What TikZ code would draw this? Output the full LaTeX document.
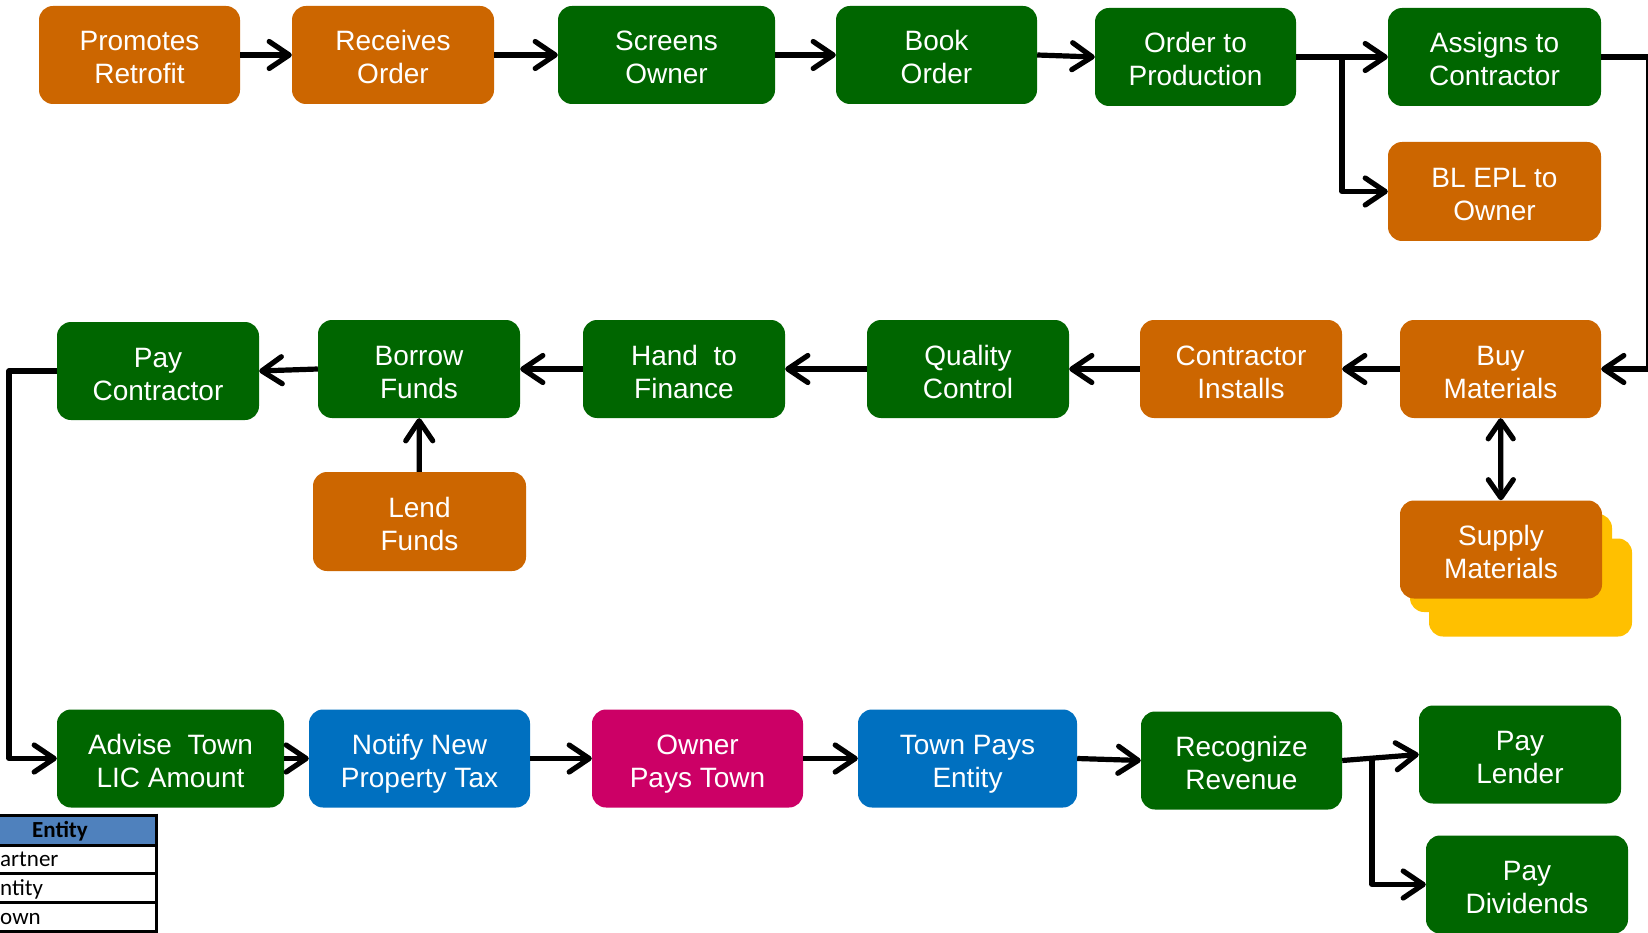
\documentclass[tikz,border=0pt]{standalone}
\usepackage{fontspec}
\setmainfont{Liberation Sans}
\newfontfamily\tablefont{Carlito}
\usetikzlibrary{arrows.meta}
\definecolor{orangec}{HTML}{CC6600}
\definecolor{greenc}{HTML}{006600}
\definecolor{bluec}{HTML}{0070C0}
\definecolor{magc}{HTML}{CC0066}
\definecolor{yellowc}{HTML}{FFC000}
\definecolor{headc}{HTML}{4F81BD}
\tikzset{
  box/.style={rectangle, rounded corners=14pt, text=white, align=center,
    minimum height=98pt, inner sep=0pt, text height=58pt, text depth=0pt,
    font=\fontsize{28}{33}\selectfont},
  obox/.style={box, fill=orangec},
  gbox/.style={box, fill=greenc},
  bbox/.style={box, fill=bluec},
  mbox/.style={box, fill=magc},
  ybox/.style={box, fill=yellowc},
  arr/.style={line width=5.2pt, line join=round,
    -{Straight Barb[length=20pt, width=27pt, line cap=round, line join=round]}},
  darr/.style={line width=5.2pt,
    {Straight Barb[length=18pt, width=25pt, line cap=round, line join=round]}-{Straight Barb[length=18pt, width=25pt, line cap=round, line join=round]}},
  tline/.style={line width=3pt},
  ttext/.style={inner sep=0pt, font=\tablefont\fontsize{23}{27}\selectfont}
}
\begin{document}
\begin{tikzpicture}[x=1pt, y=-1pt]
\path[use as bounding box, fill=white] (0,0) rectangle (1648,933);

% Row 1
\node[obox, minimum width=201pt] (promo) at (139.5,55) {Promotes\\Retrofit};
\node[obox, minimum width=202pt] (recv) at (393,55) {Receives\\Order};
\node[gbox, minimum width=217pt] (screens) at (666.5,55) {Screens\\Owner};
\node[gbox, minimum width=201pt] (book) at (936.5,55) {Book\\Order};
\node[gbox, minimum width=201pt] (prod) at (1195.5,57) {Order to\\Production};
\node[gbox, minimum width=213pt] (assign) at (1494.5,57) {Assigns to\\Contractor};
\node[obox, minimum width=213pt, minimum height=99pt] (blepl) at (1494.5,191.5) {BL EPL to\\Owner};

% Row 2
\node[gbox, minimum width=202pt] (paycon) at (158,371) {Pay\\Contractor};
\node[gbox, minimum width=202pt] (borrow) at (419,369) {Borrow\\Funds};
\node[gbox, minimum width=202pt] (hand) at (684,369) {Hand~ to\\Finance};
\node[gbox, minimum width=202pt] (quality) at (968,369) {Quality\\Control};
\node[obox, minimum width=202pt] (installs) at (1241,369) {Contractor\\Installs};
\node[obox, minimum width=201pt] (buy) at (1500.5,369) {Buy\\Materials};
\node[obox, minimum width=213pt, minimum height=99pt] (lend) at (419.5,521.5) {Lend\\Funds};
\node[ybox, minimum width=203pt] (supplyB) at (1530.5,587.5) {};
\node[ybox, minimum width=202pt] (supplyA) at (1511,563) {};
\node[obox, minimum width=202pt] (supply) at (1501,549.5) {Supply\\Materials};

% Row 3
\node[gbox, minimum width=227pt] (advise) at (170.5,758.5) {Advise~ Town\\LIC Amount};
\node[bbox, minimum width=221pt] (notify) at (419.5,758.5) {Notify New\\Property Tax};
\node[mbox, minimum width=211pt] (ownerpays) at (697.5,758.5) {Owner\\Pays Town};
\node[bbox, minimum width=219pt] (townpays) at (967.5,758.5) {Town Pays\\Entity};
\node[gbox, minimum width=201pt] (recog) at (1241.5,760.5) {Recognize\\Revenue};
\node[gbox, minimum width=202pt] (lender) at (1520,754.5) {Pay\\Lender};
\node[gbox, minimum width=202pt] (dividends) at (1527,884.5) {Pay\\Dividends};

% Connectors row 1
\draw[arr] (promo) -- (recv);
\draw[arr] (recv) -- (screens);
\draw[arr] (screens) -- (book);
\draw[arr] (book.east) -- (prod.west);
\draw[arr] (prod) -- (assign);
\coordinate (b1) at (1342,57);
\draw[arr] (b1) |- (blepl.west);
\coordinate (r1) at (1649,57);
\draw[arr] (assign.east) -- (r1) |- (buy.east);

% Connectors row 2
\draw[arr] (buy) -- (installs);
\draw[arr] (installs) -- (quality);
\draw[arr] (quality) -- (hand);
\draw[arr] (hand) -- (borrow);
\draw[arr] (borrow.west) -- (paycon.east);
\draw[arr] (lend) -- (borrow);
\draw[darr] (buy) -- (supply);
\coordinate (l1) at (9,371);
\draw[arr] (paycon.west) -- (l1) |- (advise.west);

% Connectors row 3
\draw[arr] (advise) -- (notify);
\draw[arr] (notify) -- (ownerpays);
\draw[arr] (ownerpays) -- (townpays);
\draw[arr] (townpays.east) -- (recog.west);
\draw[arr] (recog.east) -- (lender.west);
\coordinate (b2) at (1372,758.2);
\draw[arr] (b2) |- (dividends.west);

% Legend table (cropped at the left edge)
\fill[headc] (-10,815) rectangle (157,845);
\draw[tline] (-10,815) -- (157,815);
\draw[tline] (-10,845) -- (157,845);
\draw[tline] (-10,873) -- (157,873);
\draw[tline] (-10,902) -- (157,902);
\draw[tline] (-10,931.5) -- (157,931.5);
\draw[line width=3.2pt] (156.5,813.5) -- (156.5,935);
\node[ttext, anchor=base] (thead) at (60,837) {\bfseries Entity};
\node[ttext, anchor=base west] (trow1) at (0,866.5) {artner};
\node[ttext, anchor=base west] (trow2) at (0,895) {ntity};
\node[ttext, anchor=base west] (trow3) at (0,924) {own};
\end{tikzpicture}
\end{document}
